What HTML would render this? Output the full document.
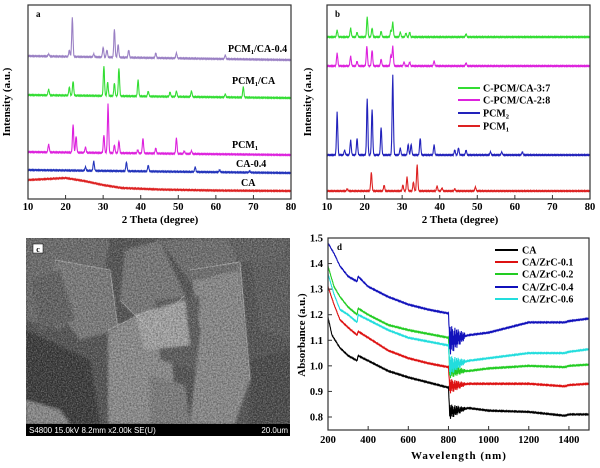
<!DOCTYPE html>
<html><head><meta charset="utf-8"><style>
html,body{margin:0;padding:0;background:#fff;}
svg{display:block;font-family:"Liberation Serif",serif;font-weight:bold;}
</style></head><body>
<svg id="fig" width="600" height="468" viewBox="0 0 600 468" xmlns="http://www.w3.org/2000/svg">
<defs>
<filter id="blur2"><feGaussianBlur stdDeviation="1.2"/></filter>
<filter id="grain" x="0" y="0" width="100%" height="100%"><feTurbulence type="fractalNoise" baseFrequency="0.8" numOctaves="2" seed="3"/><feColorMatrix type="matrix" values="0 0 0 0 1  0 0 0 0 1  0 0 0 0 1  0.7 0 0 0 -0.25"/></filter>
<filter id="grainD" x="0" y="0" width="100%" height="100%"><feTurbulence type="fractalNoise" baseFrequency="0.6" numOctaves="2" seed="8"/><feColorMatrix type="matrix" values="0 0 0 0 0  0 0 0 0 0  0 0 0 0 0  0.7 0 0 0 -0.25"/></filter>
<clipPath id="semclip"><rect x="26" y="238" width="264" height="186"/></clipPath>
</defs>
<g id="sem">
<rect x="26" y="238" width="264" height="198" fill="#505050"/>
<g clip-path="url(#semclip)">
<g filter="url(#blur2)">
<polygon points="26,238 110,238 100,300 60,330 26,320" fill="#6a6a6a"/>
<polygon points="26,330 90,360 100,424 26,424" fill="#353535"/>
<polygon points="26,400 60,410 70,424 26,424" fill="#8a8a8a"/>
<polygon points="125,250 160,240 185,295 150,330 120,300" fill="#777"/>
<polygon points="108,330 150,310 170,340 178,424 108,424" fill="#8d8d8d"/>
<polygon points="190,270 240,262 250,380 235,424 190,424 200,330" fill="#8a8a8a"/>
<polygon points="155,300 200,296 195,370 160,360" fill="#5a5a5a"/>
<polygon points="250,250 290,240 290,340 260,330" fill="#5a5a5a"/>
<polygon points="135,315 185,300 190,345 145,350" fill="#a5a5a5"/>
<polygon points="55,260 110,270 118,330 80,340 50,300" fill="#7a7a7a"/>
<polygon points="250,360 290,350 290,424 250,424" fill="#454545"/>
<polygon points="160,240 230,238 240,270 190,282" fill="#6d6d6d"/>
<polygon points="30,280 60,270 75,320 40,330" fill="#5e5e5e"/>
<polygon points="226,238 290,238 280,262 240,262" fill="#5f5f5f"/>
<polygon points="150,375 185,385 190,424 150,424" fill="#7c7c7c"/>
</g>
<g stroke="#bbb" stroke-width="1" fill="none" opacity="0.7">
<path d="M120,300 L150,330 L185,295"/><path d="M190,270 L240,262 L250,380"/><path d="M108,330 L150,310 L170,340"/><path d="M55,260 L110,270 L118,330"/>
</g>
<rect x="26" y="238" width="264" height="186" filter="url(#grain)"/>
<rect x="26" y="238" width="264" height="186" filter="url(#grainD)"/>
</g>
<rect x="26" y="424" width="264" height="12" fill="#000"/>
<text x="29" y="433" fill="#fff" font-family="Liberation Sans,sans-serif" font-weight="normal" font-size="8">S4800 15.0kV 8.2mm x2.00k SE(U)</text>
<text x="288" y="433" fill="#fff" text-anchor="end" font-family="Liberation Sans,sans-serif" font-weight="normal" font-size="8">20.0um</text>
<rect x="33" y="244" width="10" height="9" fill="#fff" stroke="#000" stroke-width="0.5"/>
<text x="38" y="252" text-anchor="middle" font-size="8">c</text>
</g>
</svg>
<script>
// ---------- Panel a data ----------
const aNames=["PCM1/CA-0.4","PCM1/CA","PCM1","CA-0.4","CA"];
const aColors=["#9a80c4","#33dd33","#dd22dd","#2233bb","#dd2222"];
const aBaseStart=[56,95,152,170,180];
const aBaseEnd=[60,98,155,173,191];
const aPeaks=[
 [[21.8,17],[33,29],[34,44],[30,47],[21,50],[36.8,50],[15.5,54],[44,53],[49.5,53],[62.5,55],[27.5,54],[31,50]],
 [[30.2,66],[34.2,68],[39.3,80],[31.2,82],[33,83],[22,81],[21,87],[67.3,87],[15.5,89],[53.5,91],[49.5,91],[47.8,92],[42,91],[62.5,94]],
 [[31.3,104],[22,124],[22.8,136],[30.2,135],[40.6,138],[49.5,138],[34.2,141],[33,145],[15.5,144],[25.3,147],[44,148],[39.2,150],[51.6,151],[53.5,151]],
 [[27.5,161],[36.2,162],[42,165],[54.5,167],[25.3,167],[61,170],[69,171]],
 []];
const caCurveX=[10,15,20,25,30,35,45,60,80];
const caCurveY=[180,179,178,181,185,188,189.5,190.5,191];
// ---------- Panel b data ----------
const bNames=["C-PCM/CA-3:7","C-PCM/CA-2:8","PCM2","PCM1"];
const bColors=["#33dd33","#dd22dd","#2222bb","#dd2222"];
const bBase=[37,66,155,191];
const bPeaks=[
 [[20.7,17],[27.5,22],[12.7,30],[16.3,28],[22,28],[18,32],[24.4,31],[29.5,32],[32,32],[27,30],[31,33],[47,34]],
 [[20.6,46],[27.5,46],[22,50],[12.7,53],[16.3,56],[24.4,59],[18,61],[38.5,61],[32,62],[27,55],[30.5,62],[47,63]],
 [[27.5,75],[20.7,99],[22,109],[12.7,112],[24.4,127],[16.3,140],[18,138],[34.8,138],[31.6,144],[32.4,144],[38.5,145],[29.5,148],[45,148],[47,150],[14.7,150],[44,150],[53.5,152],[56.5,152],[62,152]],
 [[34,164],[21.8,172],[31.3,177],[33,182],[25.2,185],[39.3,186],[49.5,187],[15.4,189],[30.2,185],[40.6,188],[44,189]]];
// ---------- Panel d data ----------
const dNames=["CA","CA/ZrC-0.1","CA/ZrC-0.2","CA/ZrC-0.4","CA/ZrC-0.6"];
const dColors=["#000000","#dd1111","#22cc22","#1111bb","#22dddd"];
const dX=[[200,220,260,300,345,350,400,500,600,700,800,805,900,1000,1200,1380,1400,1500],
 [200,230,260,300,345,350,400,500,600,700,800,805,900,1000,1200,1380,1400,1500],
 [200,230,260,300,345,350,400,500,600,700,800,805,900,1000,1200,1380,1400,1500],
 [200,230,260,300,345,350,400,500,600,700,800,805,900,1000,1200,1380,1400,1500],
 [200,230,260,300,345,350,400,500,600,700,800,805,900,1000,1200,1380,1400,1500]];
const dY=[[1.19,1.12,1.07,1.04,1.02,1.04,1.02,0.98,0.955,0.935,0.915,0.82,0.835,0.825,0.82,0.805,0.81,0.81],
 [1.31,1.24,1.18,1.15,1.12,1.135,1.11,1.06,1.03,1.01,0.995,0.92,0.93,0.93,0.93,0.92,0.925,0.93],
 [1.39,1.31,1.27,1.23,1.2,1.225,1.2,1.16,1.14,1.125,1.11,0.98,0.98,0.99,1.0,0.995,1.0,1.005],
 [1.48,1.44,1.39,1.35,1.33,1.35,1.31,1.27,1.24,1.22,1.205,1.1,1.12,1.13,1.17,1.17,1.175,1.185],
 [1.36,1.28,1.22,1.2,1.17,1.2,1.18,1.14,1.11,1.095,1.08,1.0,1.02,1.03,1.05,1.05,1.055,1.065]];
const dNoise=[0.03,0.03,0.03,0.06,0.04];
const xrdTicks=[10,20,30,40,50,60,70,80];
const dXTicks=[200,400,600,800,1000,1200,1400];
const dYTicks=[0.8,0.9,1.0,1.1,1.2,1.3,1.4,1.5];

const svg=document.getElementById('fig');
const NS="http://www.w3.org/2000/svg";
function mk(tag,attrs,parent,txt){const e=document.createElementNS(NS,tag);for(const k in attrs)e.setAttribute(k,attrs[k]);if(txt!==undefined)e.textContent=txt;(parent||svg).appendChild(e);return e;}
const jit=[0.9,-1,0.6,-0.7,1,-0.4,0.8,-0.9,0.3,-1,0.7,-0.5,1,-0.8,0.4,-0.6];

function xrdPath(sx,baseS,baseE,peaks,curveX,curveY){
  let d="";
  for(let t=10;t<=80.001;t+=0.1){
    let b;
    if(curveX){let i=0;while(i<curveX.length-2&&t>curveX[i+1])i++;const f=(t-curveX[i])/(curveX[i+1]-curveX[i]);b=curveY[i]+f*(curveY[i+1]-curveY[i]);}
    else b=baseS+(baseE-baseS)*(t-10)/70;
    let y=b+jit[Math.round(t*10)%16]*0.5;
    for(const p of peaks){const w=0.16;const g=Math.exp(-((t-p[0])**2)/(2*w*w));y-= (b-p[1])*g;}
    d+=(d?"L":"M")+sx(t).toFixed(1)+","+y.toFixed(1);
  }
  return d;
}
function frame(x0,y0,x1,y1,name){
  const r=mk('rect',{x:x0,y:y0,width:x1-x0,height:y1-y0,fill:'none',stroke:'#333','stroke-width':1.2});
  
  
}
// ---- Panel a ----
const ax0=28,ax1=291,aTop=5,aBot=199;
const sxA=v=>ax0+(v-10)/70*(ax1-ax0);
const ga=mk('g',{});


aNames.forEach((n,i)=>{
  const p=mk('path',{d:xrdPath(sxA,aBaseStart[i],aBaseEnd[i],aPeaks[i],i===4?caCurveX:null,i===4?caCurveY:null),fill:'none',stroke:aColors[i],'stroke-width':1.1},ga);
  
  
});
const aLab=[[228,52],[232,84],[232,148],[236,167],[241,186]];
aNames.forEach((n,i)=>{
  const t=mk('text',{x:aLab[i][0],y:aLab[i][1],'font-size':10},ga);
  
  
  const m=n.match(/^PCM1(.*)$/);
  if(m){t.appendChild(document.createTextNode('PCM'));const s=mk('tspan',{'font-size':6.5,dy:2},t,'1');const r=mk('tspan',{dy:-2},t,m[1]);}
  else t.textContent=n;
});
frame(ax0,aTop,ax1,aBot,'panel-a-frame');
// ---- Panel b ----
const bx0=327,bx1=590;
const sxB=v=>bx0+(v-10)/70*(bx1-bx0);
const gb=mk('g',{});


bNames.forEach((n,i)=>{
  const p=mk('path',{d:xrdPath(sxB,bBase[i],bBase[i],bPeaks[i]),fill:'none',stroke:bColors[i],'stroke-width':1.1},gb);
  
  
});
const bLegY=[88,100,113,126];
bNames.forEach((n,i)=>{
  const l=mk('line',{x1:458,x2:480,y1:bLegY[i],y2:bLegY[i],stroke:bColors[i],'stroke-width':2},gb);
  
  
  const t=mk('text',{x:483,y:bLegY[i]+3.5,'font-size':10},gb);
  
  
  const m=n.match(/^PCM(\d)$/);
  if(m){t.appendChild(document.createTextNode('PCM'));mk('tspan',{'font-size':6.5,dy:2},t,m[1]);}
  else t.textContent=n;
});
frame(bx0,aTop,bx1,aBot,'panel-b-frame');
// XRD axes ticks/labels
[[sxA,ax0,'a',160,10],[sxB,bx0,'b',460,311]].forEach(([sx,x0,k,cx,yx])=>{
  xrdTicks.forEach(v=>{
    mk('line',{x1:sx(v),x2:sx(v),y1:aBot,y2:aBot-4,stroke:'#333'});
    const t=mk('text',{x:sx(v),y:210,'text-anchor':'middle','font-size':10.5},svg,String(v));
    
    
  });
  const xt=mk('text',{x:cx,y:223,'text-anchor':'middle','font-size':11},svg,'2 Theta (degree)');
  
  
  const yt=mk('text',{x:yx,y:102,'text-anchor':'middle','font-size':11,transform:`rotate(-90 ${yx} 102)`},svg,'Intensity (a.u.)');
  
  
  const pl=mk('text',{x:x0+8,y:17,'font-size':9},svg,k);
  
  
});
// ---- Panel d ----
const dx0=328,dx1=589,dTop=238,dBot=430;
const sxD=v=>dx0+(v-200)/1300*(dx1-dx0);
const syD=v=>238+(1.5-v)*255.7;
const gd=mk('g',{});


dNames.forEach((n,i)=>{
  const xs=dX[i],ys=dY[i];let d="",k=0;
  for(let w=200;w<=1500;w+=2){
    let j=0;while(j<xs.length-2&&w>xs[j+1])j++;
    const f=Math.min(1,(w-xs[j])/(xs[j+1]-xs[j]));
    let v=ys[j]+f*(ys[j+1]-ys[j]);
    const amp=(w>=804&&w<=880)?dNoise[i]:0.002;
    v+=jit[(k++)%16]*amp*(w>=804&&w<=880?(1-(w-804)/100):1);
    d+=(d?"L":"M")+sxD(w).toFixed(1)+","+syD(v).toFixed(1);
  }
  const p=mk('path',{d:d,fill:'none',stroke:dColors[i],'stroke-width':1.1},gd);
  
  
});
const dLegY=[250,262,274,287,299];
dNames.forEach((n,i)=>{
  const l=mk('line',{x1:495,x2:518,y1:dLegY[i],y2:dLegY[i],stroke:dColors[i],'stroke-width':2},gd);
  
  
  const t=mk('text',{x:522,y:dLegY[i]+3.5,'font-size':10},gd,n);
  
  
});
frame(dx0,dTop,dx1,dBot,'panel-d-frame');
dXTicks.forEach(v=>{
  mk('line',{x1:sxD(v),x2:sxD(v),y1:dBot,y2:dBot-4,stroke:'#333'});
  const t=mk('text',{x:sxD(v),y:443,'text-anchor':'middle','font-size':10.5},svg,String(v));
  
  
});
dYTicks.forEach(v=>{
  mk('line',{x1:dx0,x2:dx0+4,y1:syD(v),y2:syD(v),stroke:'#333'});
  const t=mk('text',{x:323,y:syD(v)+3.5,'text-anchor':'end','font-size':10.5},svg,v.toFixed(1));
  
  
});
const dxt=mk('text',{x:459,y:459,'text-anchor':'middle','font-size':11,'letter-spacing':'1'},svg,'Wavelength (nm)');


const dyt=mk('text',{x:305,y:335,'text-anchor':'middle','font-size':11,transform:'rotate(-90 305 335)'},svg,'Absorbance (a.u.)');


const dl=mk('text',{x:337,y:250,'font-size':9},svg,'d');


</script>
</body></html>
